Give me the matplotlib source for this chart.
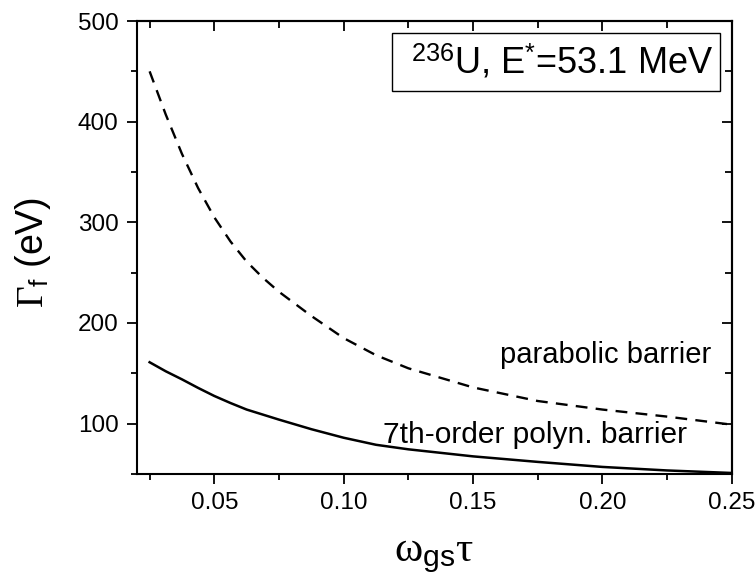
import matplotlib
matplotlib.use("Agg")
import matplotlib.pyplot as plt
from matplotlib.patches import Rectangle
from matplotlib.ticker import MultipleLocator, NullFormatter, FormatStrFormatter

plt.rcParams['font.family'] = ['Liberation Sans', 'DejaVu Sans']
plt.rcParams['mathtext.fontset'] = 'custom'
plt.rcParams['mathtext.rm'] = 'Liberation Serif'
plt.rcParams['mathtext.it'] = 'Liberation Serif:italic'
plt.rcParams['mathtext.sf'] = 'Liberation Sans'

# omega_gs * tau values
tau = [0.025, 0.03125, 0.0375, 0.04375, 0.05, 0.05625, 0.0625, 0.06875,
       0.075, 0.0875, 0.10, 0.1125, 0.125, 0.15, 0.175, 0.20, 0.225, 0.25]
# fission width (eV), parabolic barrier (dashed)
gamma_parab = [450, 407, 368, 334, 305, 281, 261, 245,
               231, 207, 185, 168, 155, 136, 122.5, 114, 107, 99]
# fission width (eV), 7th-order polynomial barrier (solid)
gamma_poly = [161, 152, 144, 135.5, 127.5, 120.5, 114, 109,
              104, 94.5, 86, 79, 74.5, 67.5, 62, 57, 53.5, 51]

fig = plt.figure(figsize=(7.56, 5.84), dpi=100)
ax = fig.add_axes([0.1808, 0.1884, 0.7871, 0.7756])

ax.plot(tau, gamma_parab, color='black', lw=1.7, dashes=(5, 3.5))
ax.plot(tau, gamma_poly, color='black', lw=1.8)

ax.set_xlim(0.02, 0.25)
ax.set_ylim(50, 500)

for sp in ax.spines.values():
    sp.set_linewidth(1.5)

# bottom / left: labelled, ticks outward
ax.xaxis.set_major_locator(MultipleLocator(0.05))
ax.xaxis.set_minor_locator(MultipleLocator(0.025))
ax.yaxis.set_major_locator(MultipleLocator(100))
ax.yaxis.set_minor_locator(MultipleLocator(50))
ax.xaxis.set_major_formatter(FormatStrFormatter('%.2f'))
ax.tick_params(which='major', direction='out', length=7, width=1.3, labelsize=17.5, pad=6)
ax.tick_params(which='minor', direction='out', length=4.5, width=1.3)

# top / right: ticks pointing inward, no labels
top = ax.secondary_xaxis('top')
top.xaxis.set_major_locator(MultipleLocator(0.05))
top.xaxis.set_minor_locator(MultipleLocator(0.025))
top.xaxis.set_major_formatter(NullFormatter())
top.tick_params(which='major', direction='in', length=7, width=1.3)
top.tick_params(which='minor', direction='in', length=5, width=1.3)
right = ax.secondary_yaxis('right')
right.yaxis.set_major_locator(MultipleLocator(100))
right.yaxis.set_minor_locator(MultipleLocator(50))
right.yaxis.set_major_formatter(NullFormatter())
right.tick_params(which='major', direction='in', length=7, width=1.3)
right.tick_params(which='minor', direction='in', length=5, width=1.3)
for s in (top, right):
    for sp in s.spines.values():
        sp.set_linewidth(1.5)

ax.set_xlabel(r'$\mathrm{\omega}_\mathsf{gs}\mathrm{\tau}$', fontsize=31)
ax.xaxis.set_label_coords(0.5, -0.135)
ax.set_ylabel(r'$\Gamma_\mathsf{f}$ (eV)', fontsize=27)
ax.yaxis.set_label_coords(-0.14, 0.49)

ax.text(0.966, 0.2444, 'parabolic barrier', transform=ax.transAxes,
        ha='right', va='baseline', fontsize=21)
ax.text(0.9244, 0.0678, '7th-order polyn. barrier', transform=ax.transAxes,
        ha='right', va='baseline', fontsize=21.5)

# annotation box
ax.add_patch(Rectangle((0.429, 0.8455), 0.551, 0.128, transform=ax.transAxes,
                       fc='white', ec='black', lw=1, zorder=3))
ax.text(0.9685, 0.9095, r'$^{\mathsf{236}}$U, E$^{\mathsf{*}}$=53.1 MeV',
        transform=ax.transAxes, ha='right', va='center', fontsize=26, zorder=4)

fig.savefig('out.png', dpi=100)
